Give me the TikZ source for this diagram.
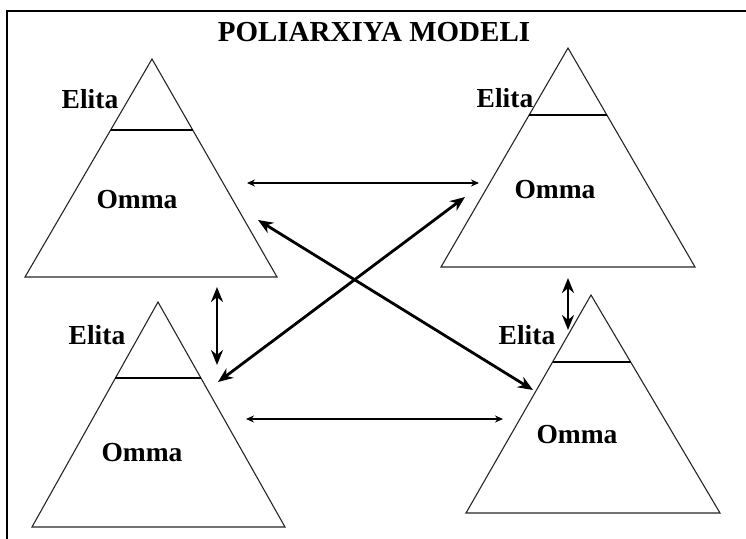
\documentclass[tikz,border=0pt]{standalone}
\usepackage{fontspec}
\setmainfont{Liberation Serif}
\usetikzlibrary{arrows.meta, calc}

\begin{document}
\begin{tikzpicture}[
    x=1pt, y=-1pt,
    frame/.style={draw=black, line width=2pt},
    pyr/.style={draw=black!85, line width=1.1pt, line join=miter},
    cut/.style={draw=black, line width=1.5pt},
    lbl/.style={font=\fontsize{27.5}{30}\bfseries\selectfont, inner sep=0pt},
    ttl/.style={font=\fontsize{29}{32}\bfseries\selectfont, inner sep=0pt},
    arr/.style={{Stealth[length=15pt, width=12pt]}-{Stealth[length=15pt, width=12pt]},
        line width=2.8pt},
    flat/.style={{Stealth[length=8pt, width=7pt]}-{Stealth[length=8pt, width=7pt]},
        line width=2.8pt}
]
\useasboundingbox (0,0) rectangle (746,538);
\clip (0,0) rectangle (746,538);

% ===================================================================
% FRAME AND TITLE
% ===================================================================
\draw[frame] (7,11) rectangle (760,560);
\node[ttl] (title) at (374,32) {POLIARXIYA MODELI};

% ===================================================================
% PYRAMIDS
% ===================================================================

% top left
\coordinate (pA) at (152,59);
\draw[pyr] (pA) -- (277,277) -- (25,277) -- cycle;
\draw[cut] ($(pA)!0.326!(25,277)$) -- ($(pA)!0.326!(277,277)$);
\node[lbl] (eliA) at (90,99) {Elita};
\node[lbl] (ommA) at (137,200) {Omma};

% top right
\coordinate (pB) at (568,48);
\draw[pyr] (pB) -- (695,267) -- (441,267) -- cycle;
\draw[cut] ($(pB)!0.306!(441,267)$) -- ($(pB)!0.306!(695,267)$);
\node[lbl] (eliB) at (505,98) {Elita};
\node[lbl] (ommB) at (555,190) {Omma};

% bottom left
\coordinate (pC) at (158,302);
\draw[pyr] (pC) -- (285,527) -- (32,527) -- cycle;
\draw[cut] ($(pC)!0.338!(32,527)$) -- ($(pC)!0.338!(285,527)$);
\node[lbl] (eliC) at (97,335) {Elita};
\node[lbl] (ommC) at (142,453) {Omma};

% bottom right
\coordinate (pD) at (591,295);
\draw[pyr] (pD) -- (720,513) -- (466,513) -- cycle;
\draw[cut] ($(pD)!0.307!(466,513)$) -- ($(pD)!0.307!(720,513)$);
\node[lbl] (eliD) at (527,335) {Elita};
\node[lbl] (ommD) at (577,435) {Omma};

% ===================================================================
% LINKS
% ===================================================================
\coordinate (aAB) at (247,183);
\coordinate (aBA) at (479,183);
\coordinate (aCD) at (246,419);
\coordinate (aDC) at (503,419);
\coordinate (aAC) at (217,287);
\coordinate (aCA) at (217,365);
\coordinate (aBD) at (568,278);
\coordinate (aDB) at (568,330);
\coordinate (aAD) at (258,220);
\coordinate (aDA) at (533,390);
\coordinate (aBC) at (465,197);
\coordinate (aCB) at (218,382);

\draw[flat] (aAB) -- (aBA);
\draw[flat] (aCD) -- (aDC);
\draw[arr] (aAC) -- (aCA);
\draw[arr] (aBD) -- (aDB);
\draw[arr] (aAD) -- (aDA);
\draw[arr] (aBC) -- (aCB);

\end{tikzpicture}
\end{document}
